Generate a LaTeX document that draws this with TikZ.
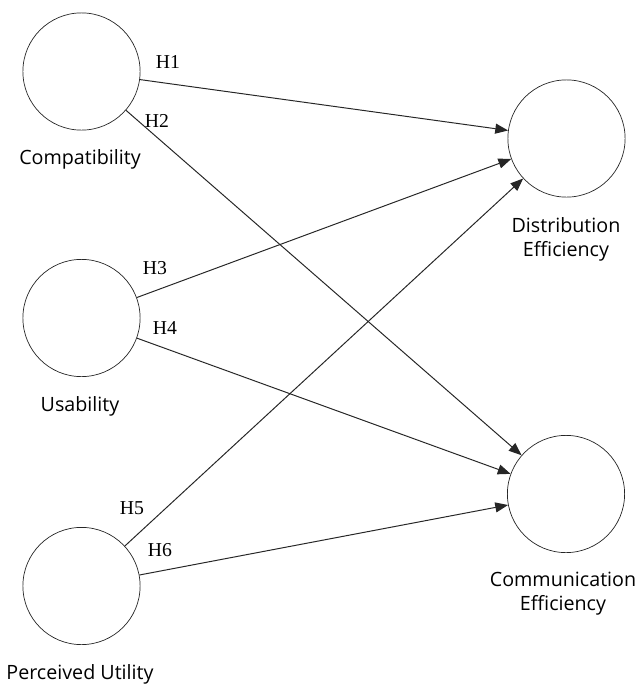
\documentclass[tikz,border=0pt]{standalone}
\usepackage{fontspec}
\setmainfont{Liberation Serif}
\newfontfamily\varfont{Open Sans}
\usetikzlibrary{arrows.meta}
\begin{document}
\begin{tikzpicture}[x=0.025cm,y=-0.025cm,
    latent/.style={circle,draw=black!85,line width=0.5pt,minimum size=2.93cm,inner sep=0pt},
    varname/.style={font=\varfont\fontsize{14}{17}\selectfont,align=center},
    hyp/.style={font=\fontsize{14}{16}\selectfont},
    path/.style={draw=black!85,line width=0.7pt,-{Triangle[length=0.32cm,width=0.25cm]}}]
                                        \useasboundingbox (0,0) rectangle (635,686);
                                        % constructs
                                        \node[latent] (comp) at (81.5,71.5) {};
                                        \node[latent] (usab) at (81.5,318) {};
                                        \node[latent] (perc) at (81.5,586) {};
                                        \node[latent] (dist) at (566.5,138.5) {};
                                        \node[latent] (comm) at (566,494) {};
                                        \node[varname] (complbl) at (80,159) {Compatibility};
                                        \node[varname] (usablbl) at (80,406) {Usability};
                                        \node[varname] (perclbl) at (80,674) {Perceived Utility};
                                        \node[varname] (distlbl) at (566,239) {Distribution\\Efficiency};
                                        \node[varname] (commlbl) at (563,594) {Communication\\Efficiency};
                                        % paths
                                        \draw[path] (comp) -- (dist);
                                        \draw[path] (comp) -- (comm);
                                        \draw[path] (usab) -- (dist);
                                        \draw[path] (usab) -- (comm);
                                        \draw[path] (perc) -- (dist);
                                        \draw[path] (perc) -- (comm);
                                        \node[hyp] (h1) at (168,62) {H1};
                                        \node[hyp] (h2) at (157,121) {H2};
                                        \node[hyp] (h3) at (155,268) {H3};
                                        \node[hyp] (h4) at (165,328) {H4};
                                        \node[hyp] (h5) at (132,508) {H5};
                                        \node[hyp] (h6) at (160,550) {H6};
                                    \end{tikzpicture}
\end{document}
